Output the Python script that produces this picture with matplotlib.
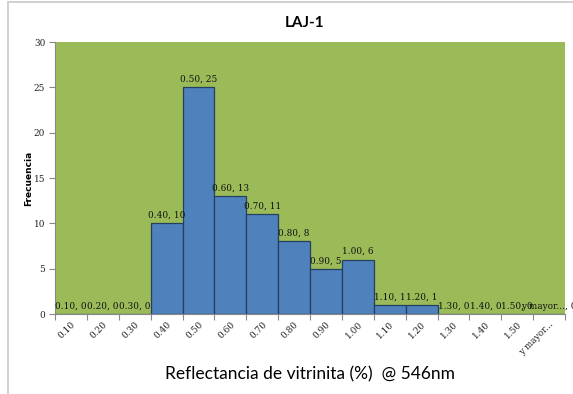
import matplotlib.pyplot as plt
import numpy as np
from matplotlib.patches import Rectangle

# Histogram bins (upper class limits) and counts
clases = ['0.10', '0.20', '0.30', '0.40', '0.50', '0.60', '0.70', '0.80',
          '0.90', '1.00', '1.10', '1.20', '1.30', '1.40', '1.50', 'y mayor...']
frecuencia = [0, 0, 0, 10, 25, 13, 11, 8, 5, 6, 1, 1, 0, 0, 0, 0]
yticks = [0, 5, 10, 15, 20, 25, 30]

fig = plt.figure(figsize=(5.73, 3.94), dpi=100)
ax = fig.add_axes([55 / 573, 80 / 394, 510 / 573, 272 / 394])

x = np.arange(len(clases))
ax.set_facecolor('#9BBB59')
ax.bar(x, frecuencia, width=1.0, color='#4F81BD', edgecolor='#243F60',
       linewidth=0.9, zorder=2)

# data labels "clase, frecuencia" above each bar
for xi, c, f in zip(x, clases, frecuencia):
    ax.annotate(f'{c}, {f}', (xi, f), xytext=(0, 2.5), textcoords='offset points',
                ha='center', va='bottom', fontsize=6.4, family='DejaVu Serif',
                color='#111111', zorder=3, annotation_clip=False)

ax.set_xlim(-0.5, len(clases) - 0.5)
ax.set_ylim(0, 30)
ax.set_yticks(yticks)
ax.set_yticklabels([str(t) for t in yticks], fontsize=6.4, family='DejaVu Serif',
                   color='#222222')

# category ticks sit on the bin boundaries, labels at the centres
ax.set_xticks(np.arange(len(clases) + 1) - 0.5)
ax.set_xticklabels([])
ax.set_xticks(x, minor=True)
ax.set_xticklabels(clases, minor=True, rotation=45, ha='right',
                   rotation_mode='anchor', fontsize=6.4, family='DejaVu Serif',
                   color='#222222')
ax.tick_params(axis='x', which='minor', length=0, pad=4)
ax.tick_params(axis='x', which='major', length=4, color='#888888', direction='out')
ax.tick_params(axis='y', length=4, color='#888888', direction='out', pad=3)

for s in ['top', 'right']:
    ax.spines[s].set_visible(False)
for s in ['left', 'bottom']:
    ax.spines[s].set_color('#888888')
    ax.spines[s].set_linewidth(0.8)

fig.text(305 / 573, 1 - 23 / 394, 'LAJ-1', ha='center', va='center',
         fontsize=11, fontweight='bold', family='Lato')
fig.text(310 / 573, 1 - 374 / 394, 'Reflectancia de vitrinita (%)  @ 546nm',
         ha='center', va='center', fontsize=12.5, family='Lato')
fig.text(29 / 573, 1 - 178 / 394, 'Frecuencia', ha='center', va='center',
         rotation=90, fontsize=6.5, fontweight='bold', family='DejaVu Sans')

# thin chart-area frame
fig.patches.append(Rectangle((8 / 573, -0.05), 1.2, 1.05 - 1.5 / 394,
                             transform=fig.transFigure, fill=False,
                             edgecolor='#c8c8c8', linewidth=1.2))

fig.savefig('out.png', dpi=100)
